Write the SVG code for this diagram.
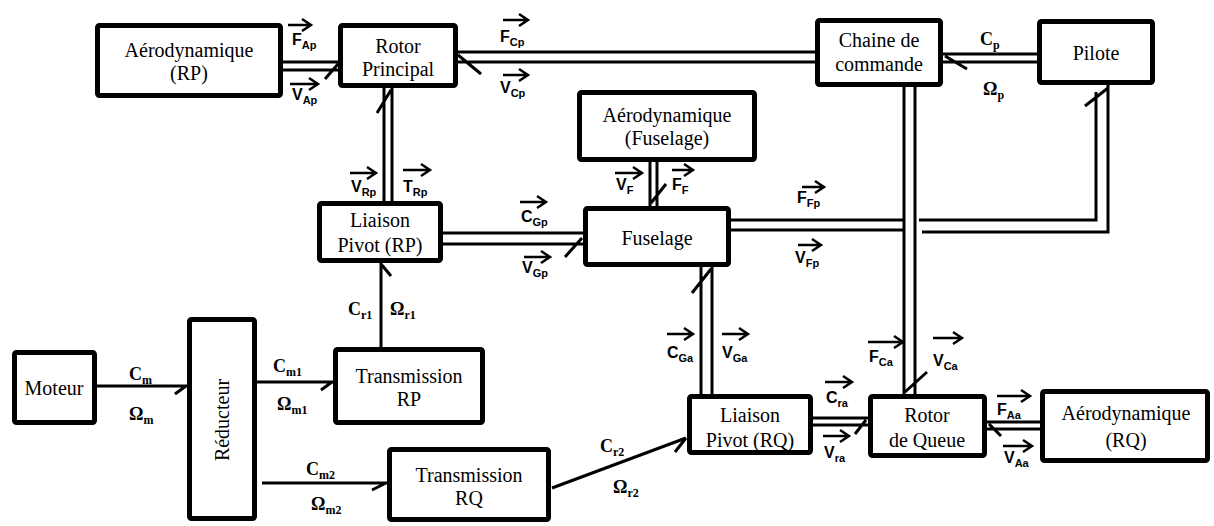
<svg xmlns="http://www.w3.org/2000/svg" width="1214" height="526" viewBox="0 0 1214 526">
<style>
.box{fill:#fff;stroke:#000;stroke-width:5}
.bl{stroke:#000;stroke-width:3;fill:none}
.t{font-family:"Liberation Serif","Times New Roman",serif;font-size:20px;text-anchor:middle;fill:#000}
.v{font-family:"Liberation Sans",Arial,sans-serif;font-weight:bold;font-size:16px;fill:#000}
.vs{font-size:11px}
.va{stroke:#000;stroke-width:2.5;fill:none}
.q{font-family:"Liberation Serif","Times New Roman",serif;font-weight:bold;font-size:18px;fill:#000}
.qs{font-size:12px}
</style>
<rect width="1214" height="526" fill="#fff"/>
<g id="aero-rp"><rect class="box" x="97.5" y="25.5" width="183" height="70" rx="2"/><text class="t" x="189" y="57">Aérodynamique</text><text class="t" x="189" y="80">(RP)</text></g>
<g id="rotor-principal"><rect class="box" x="340.5" y="25.5" width="115" height="60" rx="2"/><text class="t" x="398" y="53">Rotor</text><text class="t" x="398" y="76">Principal</text></g>
<g id="chaine"><rect class="box" x="817.5" y="20.5" width="123" height="64" rx="2"/><text class="t" x="879" y="47">Chaine de</text><text class="t" x="879" y="71">commande</text></g>
<g id="pilote"><rect class="box" x="1039.5" y="21.5" width="113" height="61" rx="2"/><text class="t" x="1096" y="60">Pilote</text></g>
<g id="aero-fuselage"><rect class="box" x="579.5" y="92.5" width="175" height="67" rx="2"/><text class="t" x="667" y="122">Aérodynamique</text><text class="t" x="667" y="145">(Fuselage)</text></g>
<g id="liaison-rp"><rect class="box" x="319.5" y="203.5" width="121" height="57" rx="2"/><text class="t" x="380" y="227">Liaison</text><text class="t" x="380" y="252">Pivot (RP)</text></g>
<g id="fuselage"><rect class="box" x="585.5" y="208.5" width="143" height="56" rx="2"/><text class="t" x="657" y="245">Fuselage</text></g>
<g id="moteur"><rect class="box" x="14.5" y="352.5" width="80" height="70" rx="2"/><text class="t" x="54" y="395">Moteur</text></g>
<g id="reducteur"><rect class="box" x="189.5" y="319.5" width="65" height="199" rx="2"/><text class="t" transform="translate(229,420) rotate(-90)">Réducteur</text></g>
<g id="transmission-rp"><rect class="box" x="335.5" y="349.5" width="147" height="73" rx="2"/><text class="t" x="409" y="383">Transmission</text><text class="t" x="409" y="406">RP</text></g>
<g id="transmission-rq"><rect class="box" x="389.5" y="449.5" width="159" height="70" rx="2"/><text class="t" x="469" y="482">Transmission</text><text class="t" x="469" y="505">RQ</text></g>
<g id="liaison-rq"><rect class="box" x="689.5" y="396.5" width="121" height="56" rx="2"/><text class="t" x="750" y="422">Liaison</text><text class="t" x="750" y="447">Pivot (RQ)</text></g>
<g id="rotor-queue"><rect class="box" x="870.5" y="396.5" width="114" height="59" rx="2"/><text class="t" x="927" y="422">Rotor</text><text class="t" x="927" y="447">de Queue</text></g>
<g id="aero-rq"><rect class="box" x="1042.5" y="391.5" width="165" height="69" rx="2"/><text class="t" x="1126" y="420">Aérodynamique</text><text class="t" x="1126" y="447">(RQ)</text></g>
<g id="connectors" class="bl">
<path d="M283,62H338M283,70H338M338,64L325,79"/>
<path d="M458,52H815M458,62H815M458,55L481,74"/>
<path d="M943,54H1037M943,62H1037M945,56L967,69"/>
<path d="M384,201V88M392,201V88M391,90L377,113"/>
<path d="M443,233H583M443,244H583M582,238L565,257"/>
<path d="M650,162V206M657,162V206M651,203L666,184"/>
<path d="M731,220H904M731,230H904M919,220H1096V92M922,232H1108V85M1108,88L1085,106"/>
<path d="M904,87V394M915,87V394M905,392L927,372"/>
<path d="M701,394V267M712,394V267M711,269L692,293"/>
<path d="M813,418H868M813,425H868M866,420L855,434"/>
<path d="M987,422H1040M987,429H1040M989,424L1001,436"/>
<path d="M97,386H187M186,386L175,394"/>
<path d="M257,382H333M332,382L321,390"/>
<path d="M262,483H387M386,483L372,490"/>
<path d="M552,488L686,438M686,438L675,452"/>
<path d="M381,347V263M381,264L391,276"/>
</g>
<g id="vector-labels">
<g class="va">
<path d="M288,25H311M302,19L311,25L302,31"/>
<path d="M290,84H318M309,78L318,84L309,90"/>
<path d="M503,20H528M519,14L528,20L519,26"/>
<path d="M503,75H528M519,69L528,75L519,81"/>
<path d="M350,173H376M367,167L376,173L367,179"/>
<path d="M403,170H430M421,164L430,170L421,176"/>
<path d="M520,202H546M537,196L546,202L537,208"/>
<path d="M524,257H550M541,251L550,257L541,263"/>
<path d="M615,173H642M633,167L642,173L633,179"/>
<path d="M672,170H693M684,164L693,170L684,176"/>
<path d="M802,187H824M815,181L824,187L815,193"/>
<path d="M798,245H821M812,239L821,245L812,251"/>
<path d="M667,334H693M684,328L693,334L684,340"/>
<path d="M722,334H748M739,328L748,334L739,340"/>
<path d="M868,342H903M894,336L903,342L894,348"/>
<path d="M933,338H962M953,332L962,338L953,344"/>
<path d="M825,382H852M843,376L852,382L843,388"/>
<path d="M823,436H849M840,430L849,436L840,442"/>
<path d="M997,396H1030M1021,390L1030,396L1021,402"/>
<path d="M1003,446H1032M1023,440L1032,446L1023,452"/>
</g>
<text class="v" x="292" y="45">F<tspan class="vs" dy="4">Ap</tspan></text>
<text class="v" x="292" y="100">V<tspan class="vs" dy="4">Ap</tspan></text>
<text class="v" x="500" y="42">F<tspan class="vs" dy="4">Cp</tspan></text>
<text class="v" x="500" y="93">V<tspan class="vs" dy="4">Cp</tspan></text>
<text class="v" x="351" y="192">V<tspan class="vs" dy="4">Rp</tspan></text>
<text class="v" x="403" y="192">T<tspan class="vs" dy="4">Rp</tspan></text>
<text class="v" x="521" y="222">C<tspan class="vs" dy="4">Gp</tspan></text>
<text class="v" x="522" y="273">V<tspan class="vs" dy="4">Gp</tspan></text>
<text class="v" x="616" y="190">V<tspan class="vs" dy="4">F</tspan></text>
<text class="v" x="672" y="190">F<tspan class="vs" dy="4">F</tspan></text>
<text class="v" x="797" y="203">F<tspan class="vs" dy="4">Fp</tspan></text>
<text class="v" x="795" y="263">V<tspan class="vs" dy="4">Fp</tspan></text>
<text class="v" x="667" y="358">C<tspan class="vs" dy="4">Ga</tspan></text>
<text class="v" x="722" y="358">V<tspan class="vs" dy="4">Ga</tspan></text>
<text class="v" x="869" y="362">F<tspan class="vs" dy="4">Ca</tspan></text>
<text class="v" x="933" y="366">V<tspan class="vs" dy="4">Ca</tspan></text>
<text class="v" x="826" y="403">C<tspan class="vs" dy="4">ra</tspan></text>
<text class="v" x="824" y="458">V<tspan class="vs" dy="4">ra</tspan></text>
<text class="v" x="997" y="415">F<tspan class="vs" dy="4">Aa</tspan></text>
<text class="v" x="1004" y="463">V<tspan class="vs" dy="4">Aa</tspan></text>
</g>
<g id="scalar-labels">
<text class="q" x="980" y="45">C<tspan class="qs" dy="4">p</tspan></text>
<text class="q" x="983" y="95">Ω<tspan class="qs" dy="4">p</tspan></text>
<text class="q" x="129" y="380">C<tspan class="qs" dy="4">m</tspan></text>
<text class="q" x="129" y="420">Ω<tspan class="qs" dy="4">m</tspan></text>
<text class="q" x="273" y="372">C<tspan class="qs" dy="4">m1</tspan></text>
<text class="q" x="277" y="410">Ω<tspan class="qs" dy="4">m1</tspan></text>
<text class="q" x="306" y="475">C<tspan class="qs" dy="4">m2</tspan></text>
<text class="q" x="311" y="510">Ω<tspan class="qs" dy="4">m2</tspan></text>
<text class="q" x="348" y="315">C<tspan class="qs" dy="4">r1</tspan></text>
<text class="q" x="390" y="315">Ω<tspan class="qs" dy="4">r1</tspan></text>
<text class="q" x="600" y="452">C<tspan class="qs" dy="4">r2</tspan></text>
<text class="q" x="613" y="493">Ω<tspan class="qs" dy="4">r2</tspan></text>
</g>
</svg>
